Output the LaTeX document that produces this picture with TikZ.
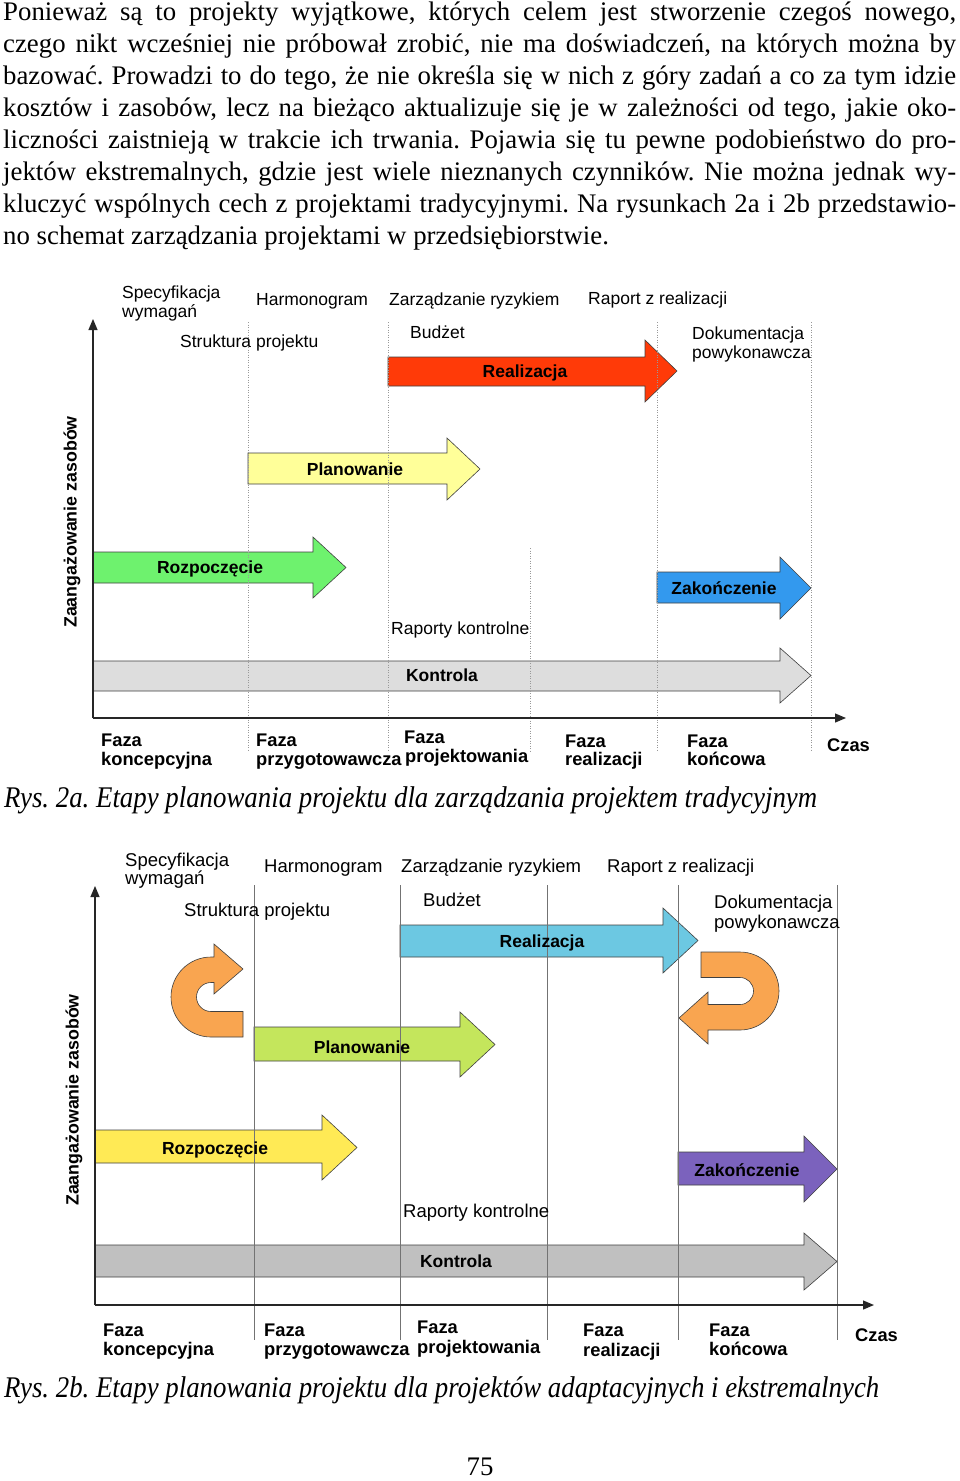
\documentclass[tikz,border=0pt]{standalone}
\usepackage{fontspec}
\usepackage{graphicx}
\setmainfont{Liberation Serif}
\newfontfamily\arialfont{Liberation Sans}
\usetikzlibrary{arrows.meta}
\frenchspacing

\definecolor{realRed}{HTML}{FF3A08}
\definecolor{planYel}{HTML}{FFFF99}
\definecolor{rozpGreen}{HTML}{6EF26E}
\definecolor{zakBlue}{HTML}{3399EE}
\definecolor{kontGray}{HTML}{DDDDDD}
\definecolor{realCyan}{HTML}{6CC8E2}
\definecolor{planLime}{HTML}{C4E65C}
\definecolor{rozpYel}{HTML}{FFEA55}
\definecolor{zakPurple}{HTML}{7B62BD}
\definecolor{kontDark}{HTML}{C0C0C0}
\definecolor{loopOrange}{HTML}{F9A550}

% block arrow: colour, x start, x head, x tip, body top, body bottom, head top, head bottom
\newcommand{\blockarrow}[8]{%
  \filldraw[fill=#1, outline] (#2,#5) -- (#3,#5) -- (#3,#7) -- (#4,{(#7+#8)/2})
    -- (#3,#8) -- (#3,#6) -- (#2,#6) -- cycle;}
% one justified line of the body text
\newcommand{\txtline}[3]{\node[bodytext] (#1) at (3,#2) {\makebox[953pt][s]{#3}};}

\begin{document}
\begin{tikzpicture}[x=1pt,y=-1pt,
  outline/.style={draw=black!75, line width=0.6pt},
  bodytext/.style={anchor=base west, inner sep=0pt, font=\fontsize{26.8}{32}\selectfont},
  caption/.style={anchor=base west, inner sep=0pt, font=\fontsize{30}{32}\selectfont\itshape},
  lblA/.style={anchor=base west, inner sep=0pt, font=\arialfont\fontsize{17.5}{19}\selectfont},
  lblB/.style={anchor=base west, inner sep=0pt, font=\arialfont\fontsize{18.5}{20}\selectfont},
  faza/.style={anchor=base west, inner sep=0pt, font=\arialfont\bfseries\fontsize{18.3}{20}\selectfont},
  stage/.style={anchor=base, inner sep=0pt, font=\arialfont\bfseries\fontsize{17.5}{19}\selectfont},
  ylab/.style={rotate=90, inner sep=0pt, font=\arialfont\bfseries\fontsize{17.8}{19}\selectfont},
  axis/.style={black!85, line width=1.2pt, -{Triangle[length=11pt,width=9pt]}},
  dotline/.style={gray!80, line width=0.6pt, dash pattern=on 1pt off 1.5pt},
  solidline/.style={gray!90!black, line width=0.8pt}]

\path[fill=white] (0,0) rectangle (960,1481);

% TEXT
\txtline{l1}{20}{Ponieważ są to projekty wyjątkowe, których celem jest stworzenie czegoś nowego,}
\txtline{l2}{52}{czego nikt wcześniej nie próbował zrobić, nie ma doświadczeń, na których można by}
\txtline{l3}{84}{bazować. Prowadzi to do tego, że nie określa się w nich z góry zadań a co za tym idzie}
\txtline{l4}{116}{kosztów i zasobów, lecz na bieżąco aktualizuje się je w zależności od tego, jakie oko-}
\txtline{l5}{148}{liczności zaistnieją w trakcie ich trwania. Pojawia się tu pewne podobieństwo do pro-}
\txtline{l6}{180}{jektów ekstremalnych, gdzie jest wiele nieznanych czynników. Nie można jednak wy-}
\txtline{l7}{212}{kluczyć wspólnych cech z projektami tradycyjnymi. Na rysunkach 2a i 2b przedstawio-}
\node[bodytext] (l8) at (3,244) {no schemat zarządzania projektami w przedsiębiorstwie.};

% RYS. 2a
\begin{scope}
  % stages
  \blockarrow{realRed}{388}{645}{677}{357}{386}{340}{402}
  \blockarrow{planYel}{248}{447}{480}{453}{484}{438}{500}
  \blockarrow{rozpGreen}{93}{313}{346}{552}{583}{537}{598}
  \blockarrow{zakBlue}{657}{780}{811}{572}{603}{557}{619}
  \blockarrow{kontGray}{93}{780}{811}{661}{691}{648}{703}

  % phase borders
  \foreach \x in {248,388,657,811}
    \draw[dotline] (\x,322) -- (\x,752);
  \draw[dotline] (530,548) -- (530,752);

  % axes
  \coordinate (originA) at (93,718);
  \coordinate (topA) at (93,319);
  \coordinate (endA) at (846,718);
  \draw[axis] (originA) -- (topA);
  \draw[axis] (originA) -- (endA);

  \node[stage] (realA) at (525,377) {Realizacja};
  \node[stage] (planA) at (355,475) {Planowanie};
  \node[stage] (rozpA) at (210,573) {Rozpoczęcie};
  \node[stage] (zakA) at (724,594) {Zakończenie};
  \node[stage] (kontA) at (442,681) {Kontrola};

  \node[lblA] (specA) at (122,298) {Specyfikacja};
  \node[lblA] (wymA) at (122,317) {wymagań};
  \node[lblA] (harmA) at (256,305) {Harmonogram};
  \node[lblA] (ryzA) at (389,305) {Zarządzanie ryzykiem};
  \node[lblA] (raportA) at (588,304) {Raport z realizacji};
  \node[lblA] (strukA) at (180,347) {Struktura projektu};
  \node[lblA] (budzA) at (410,338) {Budżet};
  \node[lblA] (dokA) at (692,339) {Dokumentacja};
  \node[lblA] (powA) at (692,358) {powykonawcza};
  \node[lblA] (rapkA) at (391,634) {Raporty kontrolne};

  \node[ylab] (zasA) at (72,522) {Zaangażowanie zasobów};

  \node[faza] (fazaA1) at (101,746) {Faza};
  \node[faza] (koncA) at (101,765) {koncepcyjna};
  \node[faza] (fazaA2) at (256,746) {Faza};
  \node[faza] (przygA) at (256,765) {przygotowawcza};
  \node[faza] (fazaA3) at (404,743) {Faza};
  \node[faza] (projA) at (405,762) {projektowania};
  \node[faza] (fazaA4) at (565,747) {Faza};
  \node[faza] (realizA) at (565,765) {realizacji};
  \node[faza] (fazaA5) at (687,747) {Faza};
  \node[faza] (koncowA) at (687,765) {końcowa};
  \node[faza] (czasA) at (827,751) {Czas};

  \node[caption] (rysA) at (4,807)
    {\resizebox{813pt}{\height}{Rys. 2a. Etapy planowania projektu dla zarządzania projektem tradycyjnym}};
\end{scope}

% RYS. 2b
\begin{scope}
  % stages
  \blockarrow{realCyan}{400}{663}{698}{925}{957}{908}{973}
  \blockarrow{planLime}{254}{460}{495}{1027}{1061}{1012}{1077}
  \blockarrow{rozpYel}{95}{322}{357}{1130}{1163}{1115}{1180}
  \blockarrow{zakPurple}{678}{804}{837}{1152}{1185}{1136}{1202}
  \blockarrow{kontDark}{95}{804}{837}{1245}{1277}{1233}{1290}

  % loops
  \filldraw[fill=loopOrange, outline] (243,1037) -- (211,1037)
    arc[start angle=90, end angle=270, radius=40] -- (214,957) -- (214,944)
    -- (243,969) -- (214,994) -- (214,982.5) -- (211,982.5)
    arc[start angle=270, end angle=90, radius=14.5] -- (243,1011.5) -- cycle;
  \filldraw[fill=loopOrange, outline] (701,952) -- (740,952)
    arc[start angle=270, end angle=450, radius=39] -- (708,1030) -- (708,1044)
    -- (679,1018) -- (708,992) -- (708,1004.5) -- (740,1004.5)
    arc[start angle=90, end angle=-90, radius=13.5] -- (701,977.5) -- cycle;

  % phase borders
  \foreach \x in {254,400,547,678,837}
    \draw[solidline] (\x,885) -- (\x,1340);

  % axes
  \coordinate (originB) at (95,1305);
  \coordinate (topB) at (95,886);
  \coordinate (endB) at (874,1305);
  \draw[axis] (originB) -- (topB);
  \draw[axis] (originB) -- (endB);

  \node[stage] (realB) at (542,947) {Realizacja};
  \node[stage] (planB) at (362,1053) {Planowanie};
  \node[stage] (rozpB) at (215,1154) {Rozpoczęcie};
  \node[stage] (zakB) at (747,1176) {Zakończenie};
  \node[stage] (kontB) at (456,1267) {Kontrola};

  \node[lblB] (specB) at (125,866) {Specyfikacja};
  \node[lblB] (wymB) at (125,884) {wymagań};
  \node[lblB] (harmB) at (264,872) {Harmonogram};
  \node[lblB] (ryzB) at (401,872) {Zarządzanie ryzykiem};
  \node[lblB] (raportB) at (607,872) {Raport z realizacji};
  \node[lblB] (strukB) at (184,916) {Struktura projektu};
  \node[lblB] (budzB) at (423,906) {Budżet};
  \node[lblB] (dokB) at (714,908) {Dokumentacja};
  \node[lblB] (powB) at (714,928) {powykonawcza};
  \node[lblB] (rapkB) at (403,1217) {Raporty kontrolne};

  \node[ylab] (zasB) at (74,1100) {Zaangażowanie zasobów};

  \node[faza] (fazaB1) at (103,1336) {Faza};
  \node[faza] (koncB) at (103,1355) {koncepcyjna};
  \node[faza] (fazaB2) at (264,1336) {Faza};
  \node[faza] (przygB) at (264,1355) {przygotowawcza};
  \node[faza] (fazaB3) at (417,1333) {Faza};
  \node[faza] (projB) at (417,1353) {projektowania};
  \node[faza] (fazaB4) at (583,1336) {Faza};
  \node[faza] (realizB) at (583,1356) {realizacji};
  \node[faza] (fazaB5) at (709,1336) {Faza};
  \node[faza] (koncowB) at (709,1355) {końcowa};
  \node[faza] (czasB) at (855,1341) {Czas};

  \node[caption] (rysB) at (4,1397)
    {\resizebox{875pt}{\height}{Rys. 2b. Etapy planowania projektu dla projektów adaptacyjnych i ekstremalnych}};
\end{scope}

% page number
\node[bodytext, anchor=base] (strona) at (480,1475) {75};

\end{tikzpicture}
\end{document}
